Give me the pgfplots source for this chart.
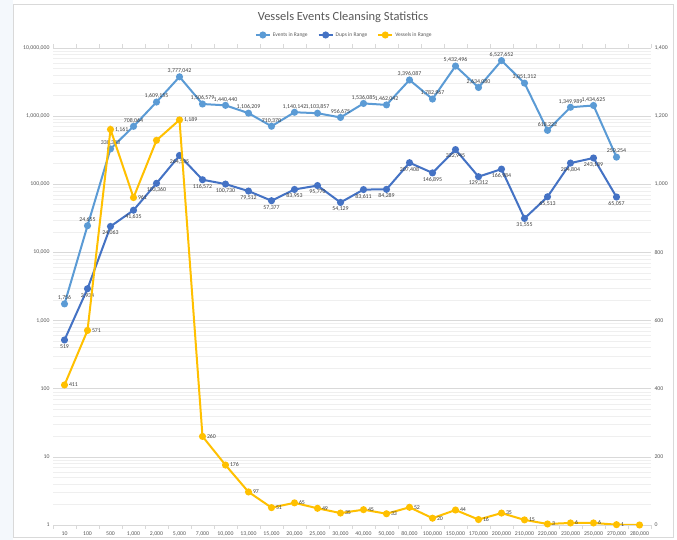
\documentclass[border=0pt]{standalone}
\usepackage{fontspec}
\setmainfont{Carlito}
\usepackage{pgfplots}
\usepackage{pgfplotstable}
\pgfplotsset{compat=1.18}
\definecolor{evc}{HTML}{5B9BD5}
\definecolor{dpc}{HTML}{4472C4}
\definecolor{vsc}{HTML}{FFC000}
\definecolor{txt}{HTML}{595959}
\definecolor{lab}{HTML}{404040}
\definecolor{gridc}{HTML}{D9D9D9}
\definecolor{mgridc}{HTML}{EFEFEF}
\definecolor{strip}{HTML}{F4F8FC}

\pgfplotstableread{
x y lab
0 1756 1,756
1 24655 24,655
2 330383 330,383
3 708064 708,064
4 1609155 1,609,155
5 3777042 3,777,042
6 1506579 1,506,579
7 1440440 1,440,440
8 1106209 1,106,209
9 710370 710,370
10 1140142 1,140,142
11 1103857 1,103,857
12 956675 956,675
13 1536085 1,536,085
14 1462042 1,462,042
15 3396087 3,396,087
16 1782967 1,782,967
17 5432496 5,432,496
18 2634080 2,634,080
19 6527652 6,527,652
20 3051312 3,051,312
21 618222 618,222
22 1349989 1,349,989
23 1434625 1,434,625
24 250254 250,254
}\events

\pgfplotstableread{
x y lab
0 519 519
1 2934 2,934
2 24063 24,063
3 41635 41,635
4 103360 103,360
5 264535 264,535
6 116572 116,572
7 100730 100,730
8 79512 79,512
9 57377 57,377
10 83953 83,953
11 95770 95,770
12 54129 54,129
13 83611 83,611
14 84289 84,289
15 207408 207,408
16 146895 146,895
17 322945 322,945
18 129312 129,312
19 166984 166,984
20 31555 31,555
21 65513 65,513
22 204804 204,804
23 243189 243,189
24 65057 65,057
}\dups

\pgfplotstableread{
x y lab
0 411 411
1 571 571
2 1161 1,161
3 961 961
4 1129 {}
5 1189 1,189
6 260 260
7 176 176
8 97 97
9 51 51
10 65 65
11 49 49
12 35 35
13 45 45
14 33 33
15 52 52
16 20 20
17 44 44
18 16 16
19 35 35
20 15 15
21 3 3
22 6 6
23 6 6
24 1 1
25 0 {}
}\vessels

\tikzset{dlab/.style={font=\fontsize{5.9}{6.5}\selectfont, text=lab, inner sep=1.5bp}}
\pgfplotsset{
  common/.style={
    scale only axis, width=598bp, height=477bp,
    at={(53bp,15bp)}, anchor=south west,
    xmin=-0.5, xmax=25.5,
    axis line style={draw=none},
    major tick length=0pt,
    tick label style={font=\fontsize{5.8}{7}\selectfont, text=txt},
    /pgf/number format/assume math mode=true,
  },
}

\begin{document}
\begin{tikzpicture}
\useasboundingbox (0,0) rectangle (677bp,540bp);
\fill[white] (0,0) rectangle (677bp,540bp);
\fill[strip] (0,0) rectangle (13bp,540bp);
\draw[gridc, line width=0.6bp] (13bp,3bp) rectangle (673bp,536bp);
\node[text=txt, font=\fontsize{12.5}{14}\selectfont] at (343bp,523bp) {Vessels Events Cleansing Statistics};

\begin{axis}[common,
  ymode=log, ymin=1, ymax=1e7,
  ytick={1,10,100,1000,10000,100000,1000000,10000000},
  yticklabels={1,10,100,{1,000},{10,000},{100,000},{1,000,000},{10,000,000}},
  minor ytick={2,3,4,5,6,7,8,9,20,30,40,50,60,70,80,90,200,300,400,500,600,700,800,900,2000,3000,4000,5000,6000,7000,8000,9000,20000,30000,40000,50000,60000,70000,80000,90000,200000,300000,400000,500000,600000,700000,800000,900000,2000000,3000000,4000000,5000000,6000000,7000000,8000000,9000000},
  ymajorgrids, yminorgrids,
  major grid style={gridc, line width=0.6bp},
  minor grid style={mgridc, line width=0.6bp},
  minor y tick style={draw=none},
  xtick={0,...,25},
  xticklabels={10,100,500,{1,000},{2,000},{5,000},{7,000},{10,000},{13,000},{15,000},{20,000},{25,000},{30,000},{40,000},{50,000},{80,000},{100,000},{150,000},{170,000},{200,000},{210,000},{220,000},{230,000},{250,000},{270,000},{280,000}},
  minor xtick={-0.5,0.5,...,25.5},
  minor tick length=4bp,
  tick align=outside,
  minor x tick style={gridc, line width=0.6bp},
  xticklabel style={yshift=-3.5bp},
  after end axis/.code={\draw[gridc, line width=0.8bp] (rel axis cs:0,0) -- (rel axis cs:1,0);},
  legend style={at={(0.487,1)}, anchor=center, yshift=13bp, draw=none, fill=none,
    font=\fontsize{5.5}{6}\selectfont, text=txt, legend columns=3,
    /tikz/every even column/.append style={column sep=8bp}},
  legend image code/.code={\draw[mark repeat=2,mark phase=2] plot coordinates {(0bp,0bp)(7bp,0bp)(14bp,0bp)};},
]
\addplot[evc, line width=2bp, mark=*, mark size=2.5bp, point meta=explicit symbolic,
  nodes near coords, every node near coord/.append style={dlab, anchor=south, yshift=1bp}]
  table[x=x, y=y, meta=lab] {\events};
\addlegendentry{Events in Range}
\addplot[dpc, line width=2bp, mark=*, mark size=2.5bp, point meta=explicit symbolic,
  nodes near coords, every node near coord/.append style={dlab, anchor=north, yshift=-2bp}]
  table[x=x, y=y, meta=lab] {\dups};
\addlegendentry{Dups in Range}
\addlegendimage{vsc, line width=2bp, mark=*, mark size=2.5bp}
\addlegendentry{Vessels in Range}
\end{axis}

\begin{axis}[common,
  ymin=0, ymax=1400,
  ytick={0,200,...,1400},
  yticklabel pos=right,
  yticklabel style={/pgf/number format/.cd, 1000 sep={,}},
  xtick=\empty,
]
\addplot[vsc, line width=2bp, mark=*, mark size=2.5bp, point meta=explicit symbolic,
  nodes near coords, every node near coord/.append style={dlab, anchor=west, xshift=2bp}]
  table[x=x, y=y, meta=lab] {\vessels};
\end{axis}
\end{tikzpicture}
\end{document}
